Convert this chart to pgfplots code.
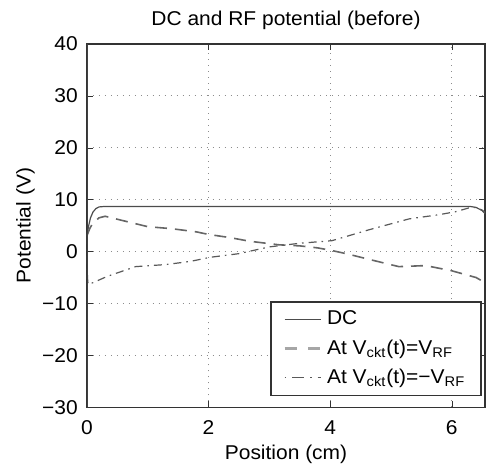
\documentclass[border=0pt]{standalone}
\usepackage{fontspec}
\setmainfont[FakeStretch=1.05]{Liberation Sans}
\usepackage{pgfplots}
\pgfplotsset{compat=1.18}
\begin{document}
\fontsize{10}{12}\selectfont
\begin{tikzpicture}
\begin{axis}[
 name=ax,
 scale only axis, width=199.5pt, height=182pt,
 xmin=0, xmax=6.55, ymin=-30, ymax=40,
 xtick={0,2,4,6}, ytick={-30,-20,-10,0,10,20,30,40},
 yticklabels={−30,−20,−10,0,10,20,30,40},
 grid=major, grid style={gray!90, line width=0.5pt, dash pattern=on 0.5pt off 2.5pt},
 tick align=inside, tick style={black!80},
 major tick length=3pt,
 axis line style={black!80, line width=0.8pt},
 title={DC and RF potential (before)},
 every axis title shift=0pt,
 title style={at={(axis description cs:0.5,1.066)}, anchor=center, inner sep=0pt, yshift=0pt},
 xlabel={Position (cm)}, ylabel={Potential (V)},
 xlabel style={at={(axis description cs:0.5,-0.129)}, anchor=center, inner sep=0pt},
 ylabel style={at={(axis description cs:-0.1541,0.5)}, anchor=center, inner sep=0pt},
 tick label style={font=\fontsize{10}{12}\selectfont},
 xticklabel style={yshift=-3pt},
 yticklabel style={xshift=-1pt},
 label style={font=\fontsize{10}{12}\selectfont},
 /pgf/number format/assume math mode=true,
 legend style={at={(rel axis cs:0.992,0.03)}, anchor=south east, draw=black!80, line width=0.8pt,
   font=\fontsize{10}{11}\selectfont, cells={anchor=west}, inner xsep=6pt, inner ysep=2.5pt, row sep=2pt,
   /tikz/every even column/.append style={column sep=2pt}},
 legend image code/.code={\draw[#1] (0pt,0pt) -- (18.5pt,0pt);},
]
\addplot[black!70, line width=0.6pt] coordinates {(0,3)(0.03,5)(0.06,6.5)(0.1,7.6)(0.15,8.3)(0.2,8.6)(0.3,8.7)(1,8.7)(3,8.7)(5,8.7)(6.3,8.7)(6.4,8.5)(6.5,7.9)(6.55,7.3)};
\addlegendentry{DC}
\addplot[black!60, line width=0.8pt, dash pattern=on 6pt off 4pt, legend image post style={black!35, line width=1.6pt, dash pattern=on 6pt off 6pt}] coordinates {(0,3)(0.05,4.5)(0.1,5.5)(0.2,6.5)(0.3,6.8)(0.65,5.8)(1,4.8)(1.4,4.4)(1.8,3.8)(2,3.3)(2.35,2.7)(2.67,2)(3.16,1.3)(3.5,1.1)(3.8,0.7)(4.03,0.2)(4.3,-0.5)(4.64,-1.5)(5.13,-2.9)(5.57,-2.7)(6,-3.7)(6.4,-5)(6.55,-6)};
\addlegendentry{At V\textsubscript{ckt}(t)=V\textsubscript{RF}}
\addplot[black!65, line width=0.6pt, dash pattern=on 4pt off 2.5pt on 0.8pt off 2.5pt, legend image post style={dash pattern=on 0.8pt off 3pt on 6pt off 3pt}] coordinates {(0,3)(0.01,-5)(0.02,-6.3)(0.1,-6)(0.33,-4.8)(0.8,-2.9)(1.3,-2.5)(1.7,-1.9)(2.03,-1.1)(2.5,-0.4)(3,0.9)(3.5,1.6)(4.03,2.1)(4.64,4.2)(5.3,6.3)(5.79,7.1)(6.07,7.7)(6.28,8.4)(6.4,8.5)(6.5,8)(6.55,7.5)};
\addlegendentry{At V\textsubscript{ckt}(t)=−V\textsubscript{RF}}
\addplot[black!75, line width=1.4pt, forget plot] coordinates {(0,-30)(0,40)};
\end{axis}
\path ([xshift=-43.5pt,yshift=-29.5pt]ax.south west) rectangle ([yshift=22pt]ax.north east);
\end{tikzpicture}
\end{document}
